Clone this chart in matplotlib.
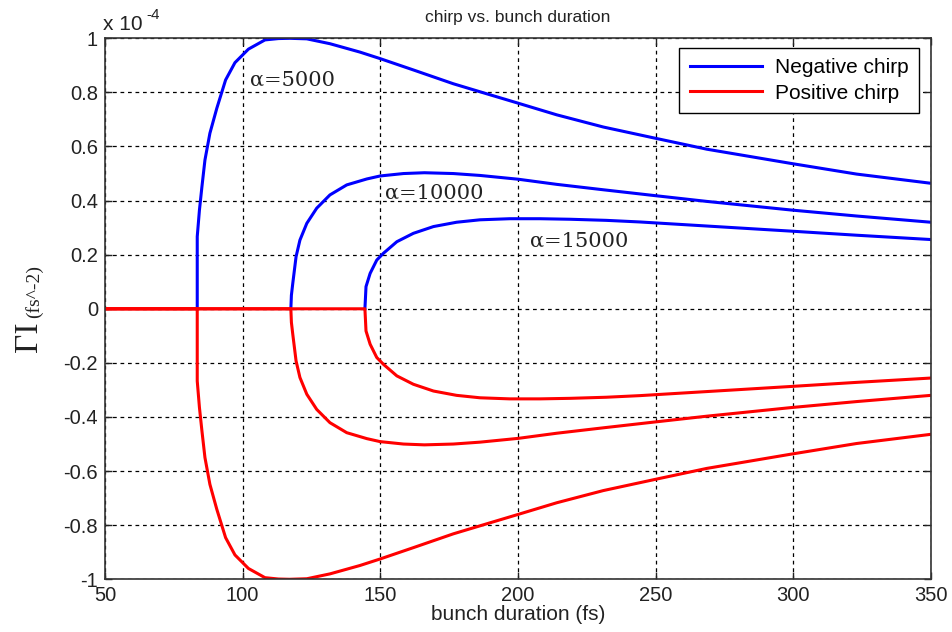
import matplotlib
matplotlib.use('Agg')
import matplotlib.pyplot as plt
from matplotlib.ticker import FixedLocator, FixedFormatter

plt.rcParams['font.family'] = ['Liberation Sans', 'DejaVu Sans']

# Chirp (in units of 1e-4 fs^-2) against bunch duration, upper (negative chirp) branch
t_5000 = [83.5, 83.5, 84.3, 85.2, 86.3, 88.1, 90.6, 93.8, 97.2, 102.1, 108.1, 113.0, 117.0,
          123.3, 131.7, 142.6, 149.9, 162.0, 176.5, 188.6, 200.1, 214.1, 231.0, 249.2,
          268.6, 299.4, 323.0, 350.0]
g_5000 = [0.0, 0.267, 0.365, 0.451, 0.55, 0.649, 0.741, 0.846, 0.91, 0.96, 0.994, 0.999, 1.0,
          0.998, 0.980, 0.949, 0.925, 0.883, 0.832, 0.795, 0.760, 0.717, 0.672, 0.632,
          0.590, 0.537, 0.498, 0.464]

t_10000 = [117.5, 117.7, 118.2, 119.4, 120.8, 123.3, 126.9, 131.7, 137.8, 145.1, 149.9,
           158.4, 166.0, 176.5, 186.2, 200.1, 214.1, 231.0, 249.2, 268.6, 299.4, 323.0, 350.0]
g_10000 = [0.0, 0.05, 0.094, 0.193, 0.254, 0.316, 0.372, 0.421, 0.458, 0.480, 0.491,
           0.500, 0.503, 0.500, 0.493, 0.479, 0.460, 0.440, 0.419, 0.397, 0.365, 0.343, 0.320]

t_15000 = [144.4, 144.6, 144.8, 146.3, 148.7, 151.1, 156.0, 162.0, 169.3, 177.7, 186.2,
           197.0, 208.0, 219.0, 232.0, 244.3, 268.6, 299.4, 323.0, 350.0]
g_15000 = [0.0, 0.04, 0.082, 0.131, 0.180, 0.205, 0.248, 0.279, 0.304, 0.320, 0.329,
           0.333, 0.333, 0.331, 0.327, 0.321, 0.306, 0.287, 0.272, 0.256]

curves = [(t_5000, g_5000), (t_10000, g_10000), (t_15000, g_15000)]
alpha_labels = ['\u03b1=5000', '\u03b1=10000', '\u03b1=15000']
label_pos = [(102.7, 0.846), (151.7, 0.428), (204.4, 0.251)]

x_ticks = [50, 100, 150, 200, 250, 300, 350]
y_ticks = [-1, -0.8, -0.6, -0.4, -0.2, 0, 0.2, 0.4, 0.6, 0.8, 1]
y_tick_labels = ['-1', '-0.8', '-0.6', '-0.4', '-0.2', '0', '0.2', '0.4', '0.6', '0.8', '1']

fig = plt.figure(figsize=(9.52, 6.32), dpi=100)
ax = fig.add_axes([0.1103, 0.0834, 0.8676, 0.856])

for i, (t, g) in enumerate(curves):
    ax.plot(t, g, color='#0000ff', lw=2.2, label='Negative chirp' if i == 0 else None)

# positive chirp branch is the mirror image, zero below the threshold duration
for i, (t, g) in enumerate(curves):
    ax.plot([50] + t, [0] + [-v for v in g], color='#ff0000', lw=2.2,
            label='Positive chirp' if i == 0 else None)

for txt, (x, y) in zip(alpha_labels, label_pos):
    ax.text(x, y, txt, fontsize=15, family='DejaVu Serif', color='#222222',
            va='center', ha='left')

ax.set_xlim(50, 350)
ax.set_ylim(-1, 1)
ax.xaxis.set_major_locator(FixedLocator(x_ticks))
ax.yaxis.set_major_locator(FixedLocator(y_ticks))
ax.yaxis.set_major_formatter(FixedFormatter(y_tick_labels))
ax.tick_params(direction='in', length=5, width=1, top=True, right=True,
               labelsize=14.5, colors='#222222', pad=5)
ax.grid(True, color='black', linestyle=(0, (3, 3)), linewidth=0.9)
for s in ax.spines.values():
    s.set_color('#333333')
    s.set_linewidth(1.2)

ax.set_title('chirp vs. bunch duration', fontsize=12.5, pad=12, color='#222222')
ax.set_xlabel('bunch duration (fs)', fontsize=15, labelpad=0, color='#222222')

# y label: large gamma symbol followed by the unit
fig.text(37 / 952, 1 - 352 / 632, '\u0393I', fontsize=24, family='Liberation Serif',
         rotation=90, rotation_mode='anchor', ha='left', va='baseline', color='#222222')
fig.text(39 / 952, 1 - 318 / 632, '(fs^-2)', fontsize=14, family='Liberation Serif',
         rotation=90, rotation_mode='anchor', ha='left', va='baseline', color='#222222')

# axis multiplier in the top left corner
fig.text(103 / 952, 1 - 30 / 632, 'x 10', fontsize=15, color='#222222',
         ha='left', va='baseline')
fig.text(146 / 952, 1 - 19 / 632, '-4', fontsize=11, color='#222222',
         ha='left', va='baseline')

ax.legend(loc='upper right', bbox_to_anchor=(919 / 952, 1 - 48 / 632),
          bbox_transform=fig.transFigure, borderaxespad=0, fancybox=False,
          edgecolor='black', framealpha=1, fontsize=15, handlelength=3.5,
          handletextpad=0.6, borderpad=0.5, labelspacing=0.3)

fig.savefig('out.png', dpi=100)
